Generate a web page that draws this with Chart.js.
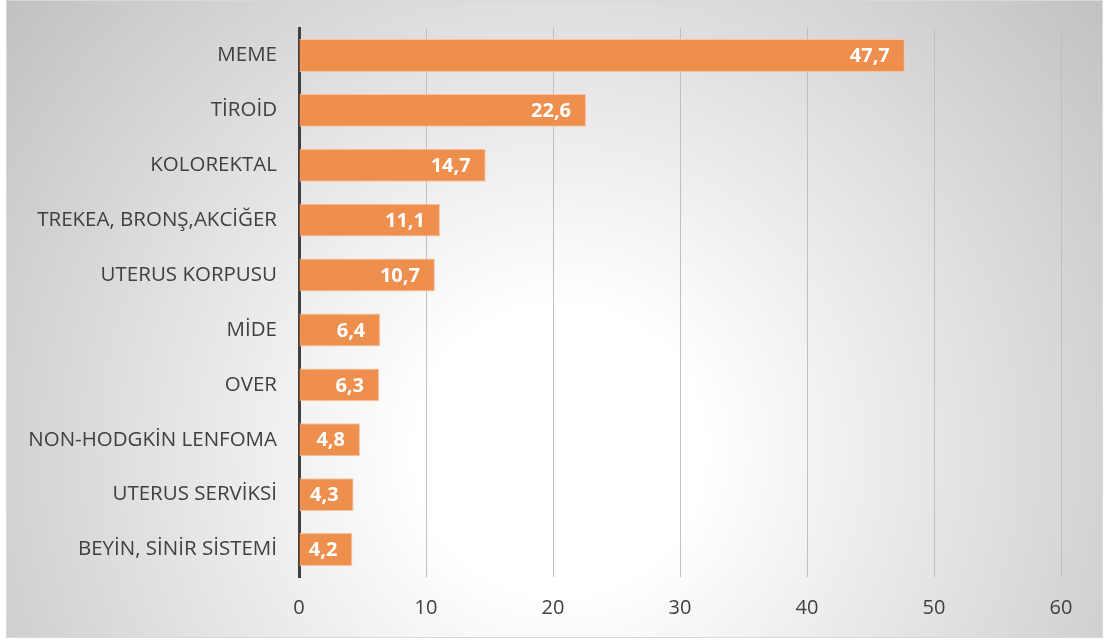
<!DOCTYPE html>
<html>
<head>
<meta charset="utf-8">
<script src="https://cdn.jsdelivr.net/npm/chart.js@4/dist/chart.umd.min.js"></script>
<style>
  body { margin: 0; background: #fff; }
  #wrap { width: 1107px; height: 644px; }
</style>
</head>
<body>
<div id="wrap"><canvas id="barChart"></canvas></div>
<script>
// chart data
const categories = ["MEME", "TİROİD", "KOLOREKTAL", "TREKEA, BRONŞ,AKCİĞER", "UTERUS KORPUSU",
  "MİDE", "OVER", "NON-HODGKİN LENFOMA", "UTERUS SERVİKSİ", "BEYİN, SİNİR SİSTEMİ"]
const values = [47.7, 22.6, 14.7, 11.1, 10.7, 6.4, 6.3, 4.8, 4.3, 4.2]
const xTicks = [0, 10, 20, 30, 40, 50, 60]

// grey radial background behind the whole chart box
const backdrop = {
  id: "backdrop",
  beforeDraw(chart) {
    const ctx = chart.ctx
    ctx.save()
    ctx.fillStyle = "#ffffff"
    ctx.fillRect(0, 0, chart.width, chart.height)
    const g = ctx.createRadialGradient(560, 450, 0, 560, 450, 720)
    g.addColorStop(0, "#ffffff")
    g.addColorStop(0.2, "#ffffff")
    g.addColorStop(1, "#c0c0c0")
    ctx.fillStyle = g
    ctx.fillRect(6, 0, 1097, 638)
    ctx.strokeStyle = "#d9d9d9"
    ctx.lineWidth = 1
    ctx.strokeRect(6.5, 0.5, 1096, 637)
    ctx.restore()
  }
}

// white value labels inside the bar ends
const valueLabels = {
  id: "valueLabels",
  afterDatasetsDraw(chart) {
    const ctx = chart.ctx
    const meta = chart.getDatasetMeta(0)
    ctx.save()
    ctx.font = "bold 20px 'Open Sans'"
    ctx.fillStyle = "#ffffff"
    ctx.textAlign = "right"
    ctx.textBaseline = "middle"
    meta.data.forEach((bar, i) => {
      ctx.fillText(values[i].toFixed(1).replace(".", ","), bar.x - 15, bar.y + 1)
    })
    ctx.restore()
  }
}

const data = {
  labels: categories,
  datasets: [{
    data: values,
    backgroundColor: "#ee8f4e",
    borderColor: "#f7c4a2",
    borderWidth: 1,
    borderSkipped: "left",
    barPercentage: 0.6,
    categoryPercentage: 1
  }]
}

const config = {
  type: "bar",
  data: data,
  options: {
    indexAxis: "y",
    responsive: false,
    animation: false,
    devicePixelRatio: 1,
    layout: { padding: { top: 28, right: 46, left: 0, bottom: 0 } },
    plugins: { legend: { display: false }, tooltip: { enabled: false } },
    scales: {
      x: {
        min: 0,
        max: 60,
        afterBuildTicks(scale) { scale.ticks = xTicks.map(v => ({ value: v })) },
        afterFit(scale) { scale.height = 67 },
        grid: { color: "#bfbfbf", lineWidth: 1, drawTicks: false },
        border: { display: false },
        ticks: { color: "#404040", padding: 19, font: { family: "'Open Sans'", size: 20 } }
      },
      y: {
        afterFit(scale) { scale.width = 299 },
        grid: { display: false },
        border: { color: "#404040", width: 3 },
        ticks: { color: "#404040", padding: 14, font: { family: "'Open Sans'", size: 20.5 } }
      }
    }
  },
  plugins: [backdrop, valueLabels]
}

const canvas = document.querySelector("#barChart")
canvas.width = 1107
canvas.height = 644
const barChart = new Chart(canvas, config)
</script>
</body>
</html>
